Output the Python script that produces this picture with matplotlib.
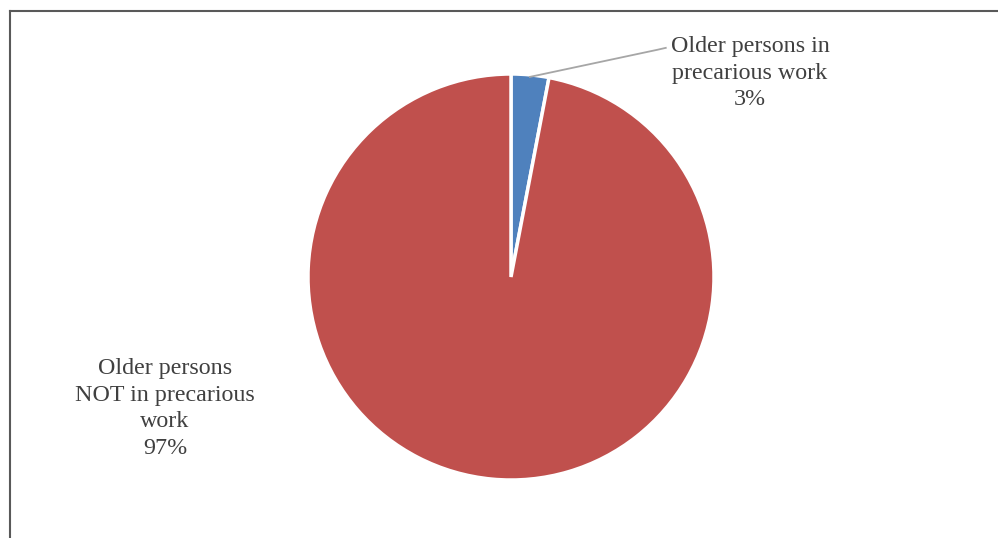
import numpy as np
from matplotlib import pyplot as plt
from matplotlib.lines import Line2D

labels = ['Older persons in\nprecarious work', 'Older persons\nNOT in precarious\nwork']
shares = [3, 97]
colors = ['#4F81BD', '#C0504D']

plt.rcParams['font.family'] = ['Liberation Serif', 'DejaVu Serif']

W, H = 998, 538
fig = plt.figure(figsize=(W / 100, H / 100), dpi=100)

# pie centre and radius in pixels
cx, cy, r = 511, 277, 201
ax = fig.add_axes([(cx - r) / W, (H - cy - r) / H, 2 * r / W, 2 * r / H])
wedges, _ = ax.pie(shares, colors=colors, startangle=90, counterclock=False,
                   radius=1.01, wedgeprops=dict(edgecolor='white', linewidth=2.5))
ax.set_xlim(-1, 1)
ax.set_ylim(-1, 1)
ax.set_aspect('equal')
ax.axis('off')

# labels
txt_kw = dict(ha='center', va='center', fontsize=17.3, color='#404040',
              linespacing=1.34, clip_on=False)
ax.text(1.189, 1.013, labels[0] + '\n%d%%' % shares[0], **txt_kw)
ax.text(-1.721, -0.655, labels[1] + '\n%d%%' % shares[1], **txt_kw)

# leader line for the small slice
w = wedges[0]
mid = np.deg2rad((w.theta1 + w.theta2) / 2)
ax.plot([np.cos(mid), 0.726, 0.77], [np.sin(mid), 1.13, 1.14],
        color='#A6A6A6', linewidth=1.3, clip_on=False)

# chart frame (only top and left visible)
fig.add_artist(Line2D([10 / W, 1], [1 - 11 / H, 1 - 11 / H],
                      transform=fig.transFigure, color='#595959', linewidth=1.5))
fig.add_artist(Line2D([10 / W, 10 / W], [0, 1 - 11 / H],
                      transform=fig.transFigure, color='#595959', linewidth=1.5))

plt.savefig('out.png', dpi=100, facecolor='white')
